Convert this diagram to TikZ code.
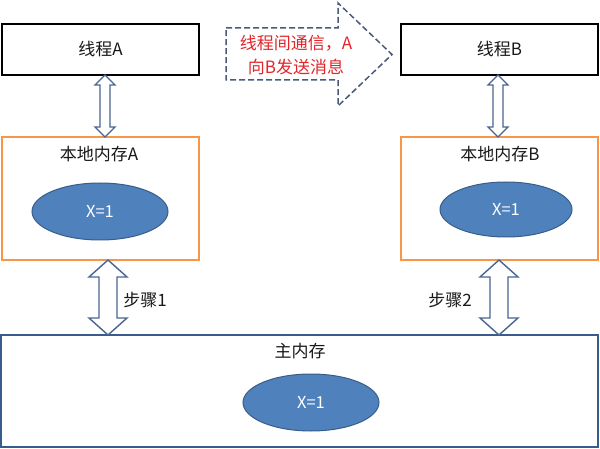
\documentclass[tikz,border=0pt]{standalone}
\usepackage{fontspec}
\setmainfont{Noto Sans CJK SC}
\usetikzlibrary{calc,shapes.geometric}
\definecolor{ellfill}{HTML}{4F81BD}
\definecolor{ellline}{HTML}{385D8A}
\definecolor{orng}{HTML}{F79646}
\definecolor{arrline}{HTML}{4A6591}
\definecolor{dashline}{HTML}{4A5B78}
\definecolor{msgred}{HTML}{E3262B}
\newcommand\vdarrow[5]{%
  \draw[dblarr] (#1) -- ($(#1)+(#3,#5)$) -- ($(#1)+(#4,#5)$) -- ($(#2)+(#4,-#5)$)
   -- ($(#2)+(#3,-#5)$) -- (#2) -- ($(#2)+(-#3,-#5)$) -- ($(#2)+(-#4,-#5)$)
   -- ($(#1)+(-#4,#5)$) -- ($(#1)+(-#3,#5)$) -- cycle;}
\begin{document}
\begin{tikzpicture}[x=1pt,y=-1pt,
  txt/.style={font=\fontsize{17}{20}\selectfont, text=black!90, inner sep=0pt},
  thread/.style={draw=black, line width=1.8pt, fill=white, minimum width=197pt, minimum height=51pt, outer sep=0pt, inner sep=0pt},
  local/.style={draw=orng, line width=1.8pt, minimum width=197pt, minimum height=123pt, outer sep=0pt},
  mainbox/.style={draw=ellline, line width=1.9pt, minimum width=597pt, minimum height=112pt, outer sep=0pt},
  val/.style={ellipse, draw=ellline, line width=1pt, fill=ellfill, text=white, inner sep=0pt,
    font=\fontsize{16.5}{18}\selectfont},
  dblarr/.style={draw=arrline, line width=1.4pt, fill=white, line join=miter},
  msgarrow/.style={draw=dashline, line width=1.5pt, dash pattern=on 6pt off 3pt, fill=white, line join=miter}]
\useasboundingbox (0,0) rectangle (600,449);
\fill[white] (0,0) rectangle (600,449);
% boxes
\node[thread, txt] (ta) at (100.5,49.5) {线程A};
\node[thread, txt] (tb) at (499.5,49.5) {线程B};
\node[local] (la) at (100.5,198.5) {};
\node[local] (lb) at (499.5,198.5) {};
\node[mainbox] (mm) at (299.5,391) {};
% labels
\node[txt] (lat) at (99,154) {本地内存A};
\node[txt] (lbt) at (500,154) {本地内存B};
\node[txt] (mmt) at (300,351) {主内存};
% values
\node[val, minimum width=136pt, minimum height=57pt] (ea) at (100,211.5) {X=1};
\node[val, minimum width=132pt, minimum height=55pt] (eb) at (506,209.5) {X=1};
\node[val, minimum width=136pt, minimum height=57pt] (em) at (311,402.5) {X=1};
% arrow x positions
\coordinate (xa) at (105,0);
\coordinate (xb) at (498,0);
\coordinate (x1) at (108,0);
\coordinate (x2) at (499,0);
\coordinate (a1t) at (ta.south -| xa);
\coordinate (a1b) at (la.north -| xa);
\coordinate (a2t) at (tb.south -| xb);
\coordinate (a2b) at (lb.north -| xb);
\coordinate (s1t) at (la.south -| x1);
\coordinate (s1b) at (mm.north -| x1);
\coordinate (s2t) at (lb.south -| x2);
\coordinate (s2b) at (mm.north -| x2);
\vdarrow{a1t}{a1b}{10}{5}{10}
\vdarrow{a2t}{a2b}{10}{5}{10}
\vdarrow{s1t}{s1b}{19}{9}{17}
\vdarrow{s2t}{s2b}{19}{9}{17}
\node[txt] (s1) at (145,300) {步骤1};
\node[txt] (s2) at (450,300) {步骤2};
% message arrow
\draw[msgarrow] (226,28) -- (338,28) -- (338,3) -- (392,54.5) -- (338,106) -- (338,80) -- (226,80) -- cycle;
\node[txt, text=msgred, align=center, font=\fontsize{17}{24}\selectfont] (msg) at (296,55) {线程间通信，A\\向B发送消息};
\end{tikzpicture}
\end{document}
